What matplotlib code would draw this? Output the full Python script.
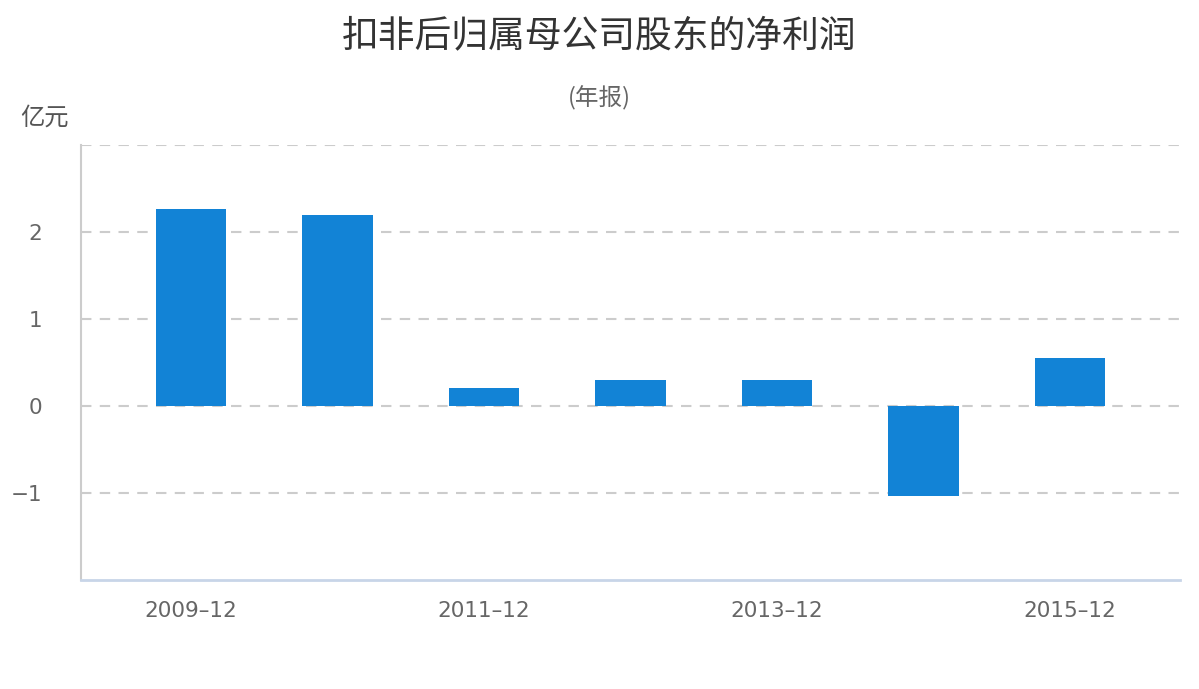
import matplotlib
matplotlib.use("Agg")
import matplotlib.pyplot as plt

plt.rcParams['font.family'] = ['Noto Sans CJK SC', 'DejaVu Sans']

categories = ["2009-12", "2010-12", "2011-12", "2012-12", "2013-12", "2014-12", "2015-12"]
values = [2.27, 2.20, 0.21, 0.30, 0.30, -1.04, 0.55]
yticks = [-1, 0, 1, 2]
title = "扣非后归属母公司股东的净利润"
subtitle = "(年报)"
unit = "亿元"

W, H = 1199, 689
fig = plt.figure(figsize=(W / 100, H / 100), dpi=100)
ax = fig.add_axes([81 / W, (H - 580) / H, (1180 - 81) / W, (580 - 145) / H])

x = list(range(len(categories)))
ax.bar(x, values, width=0.48, color="#1283d6", zorder=3)

ax.set_xlim(-0.75, 6.75)
ax.set_ylim(-2, 3)

for yv in [-1, 0, 1, 2, 3]:
    ax.axhline(yv, color="#cccccc", linestyle=(0, (5, 4)), linewidth=1.5, zorder=1)

tick_font = dict(family=['DejaVu Sans'], fontsize=15.5, color="#666666")
ax.set_yticks(yticks)
ax.set_yticklabels([str(v).replace("-", "−") for v in yticks], **tick_font)
ax.set_xticks(x[::2])
ax.set_xticklabels([c.replace("-", "–") for c in categories[::2]], **tick_font)
ax.tick_params(axis="both", length=0)
ax.tick_params(axis="y", pad=28)
ax.tick_params(axis="x", pad=15)

for s in ["top", "right"]:
    ax.spines[s].set_visible(False)
ax.spines["left"].set_color("#cccccc")
ax.spines["left"].set_linewidth(1.5)
ax.spines["bottom"].set_color("#c8d5e8")
ax.spines["bottom"].set_linewidth(2)

fig.text(0.5, 1 - 36 / H, title, ha="center", va="center", fontsize=26.5, color="#333333")
fig.text(0.5, 1 - 98 / H, subtitle, ha="center", va="center", fontsize=17, color="#666666")
fig.text(44 / W, 1 - 118 / H, unit, ha="center", va="center", fontsize=17.5, color="#555555")

fig.savefig("out.png", dpi=100, facecolor="white")
